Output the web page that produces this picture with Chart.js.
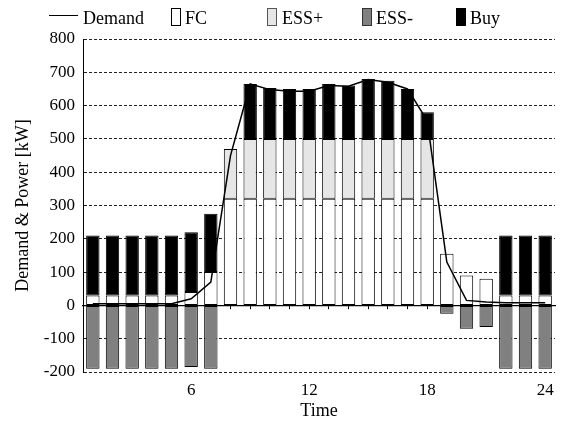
<!DOCTYPE html>
<html>
<head>
<meta charset="utf-8">
<script src="https://cdn.jsdelivr.net/npm/chart.js@4.4.1/dist/chart.umd.min.js"></script>
<style>
    body { margin: 0; background: #fff; }
    #wrap { position: relative; width: 563px; height: 423px; }
    .leg { position: absolute; top: 8px; font: 18px "Liberation Serif", serif; color: #000; line-height: 20px; white-space: nowrap; }
    .box { position: absolute; top: 8px; width: 8px; height: 16px; border: 1px solid #000; }
</style>
</head>
<body>
<div id="wrap">
    <canvas id="chart" width="563" height="423"></canvas>
    <div style="position:absolute;left:49px;top:15px;width:29px;border-top:1.5px solid #000"></div>
    <span class="leg" style="left:83px">Demand</span>
    <div class="box" style="left:171px;background:#fff"></div>
    <span class="leg" style="left:185px">FC</span>
    <div class="box" style="left:267px;background:#e6e6e6;border-color:#555"></div>
    <span class="leg" style="left:282px">ESS+</span>
    <div class="box" style="left:362px;background:#808080;border-color:#333"></div>
    <span class="leg" style="left:376px">ESS-</span>
    <div class="box" style="left:456px;background:#000"></div>
    <span class="leg" style="left:470px">Buy</span>
</div>
<script>
const hours = ['1', '2', '3', '4', '5', '6', '7', '8', '9', '10', '11', '12',
    '13', '14', '15', '16', '17', '18', '19', '20', '21', '22', '23', '24'];
const demand = [5, 5, 5, 5, 5, 20, 70, 450, 665, 648, 643, 643, 660, 658, 678, 670, 650, 555, 130, 15, 10, 8, 8, 8];
const fc = [30, 30, 30, 30, 30, 40, 100, 320, 320, 320, 320, 320, 320, 320, 320, 320, 320, 320, 155, 90, 80, 30, 30, 30];
const essPlus = [null, null, null, null, null, null, null, 150, 180, 180, 180, 180, 180, 180, 180, 180, 180, 180, null, null, null, null, null, null];
const essMinus = [-190, -190, -190, -190, -190, -185, -190, null, null, null, null, null, null, null, null, null, null, null, -25, -70, -65, -190, -190, -190];
const buy = [180, 180, 180, 180, 180, 180, 175, null, 165, 153, 150, 150, 165, 160, 180, 175, 150, 80, null, null, null, 180, 180, 180];
const yTicks = { min: -200, max: 800, step: 100 };
const xShown = ['6', '12', '18', '24'];

const serif = '"Liberation Serif", "Times New Roman", serif';

function barSet(label, data, color) {
    return {
        type: 'bar',
        label: label,
        data: data,
        backgroundColor: color,
        borderColor: '#000',
        borderWidth: 1,
        borderSkipped: false,
        stack: 'power',
        barPercentage: 0.68,
        categoryPercentage: 1,
        order: 1
    };
}

new Chart(document.getElementById('chart'), {
    data: {
        labels: hours,
        datasets: [
            {
                type: 'line',
                label: 'Demand',
                data: demand,
                borderColor: '#000',
                borderWidth: 1.5,
                pointRadius: 0,
                tension: 0,
                stack: 'demand',
                order: 0
            },
            barSet('FC', fc, '#ffffff'),
            barSet('ESS+', essPlus, '#e6e6e6'),
            barSet('Buy', buy, '#000000'),
            barSet('ESS-', essMinus, '#808080')
        ]
    },
    options: {
        responsive: false,
        animation: false,
        layout: { padding: { top: 39, right: 8, left: 8, bottom: 1 } },
        plugins: {
            legend: { display: false },
            tooltip: { enabled: false }
        },
        scales: {
            x: {
                stacked: true,
                offset: true,
                grid: { display: false, drawTicks: false },
                border: { display: false },
                ticks: {
                    autoSkip: false,
                    maxRotation: 0,
                    padding: 8,
                    color: '#000',
                    font: { family: serif, size: 17 },
                    callback: function (value, index) {
                        const lab = hours[index];
                        return xShown.includes(lab) ? lab : '';
                    }
                },
                title: {
                    display: true,
                    text: 'Time',
                    color: '#000',
                    font: { family: serif, size: 18 },
                    padding: { top: 0, bottom: 0 }
                },
                afterFit: function (scale) { scale.height = 50; }
            },
            x2: {
                type: 'category',
                position: { y: 0 },
                offset: true,
                ticks: { display: false },
                grid: { drawOnChartArea: false, drawTicks: true, tickLength: 3, offset: false, color: '#000' },
                border: { display: true, color: '#000', width: 1.2 }
            },
            y: {
                stacked: true,
                min: yTicks.min,
                max: yTicks.max,
                ticks: {
                    stepSize: yTicks.step,
                    padding: 8,
                    color: '#000',
                    font: { family: serif, size: 17 }
                },
                grid: { color: '#222', lineWidth: 1, drawTicks: false },
                border: { display: true, color: '#000', width: 1, dash: [3, 2] },
                title: {
                    display: true,
                    text: 'Demand & Power [kW]',
                    color: '#000',
                    font: { family: serif, size: 18 },
                    padding: { top: 4, bottom: 0 }
                },
                afterFit: function (scale) { scale.width = 75; }
            }
        }
    }
});
</script>
</body>
</html>
